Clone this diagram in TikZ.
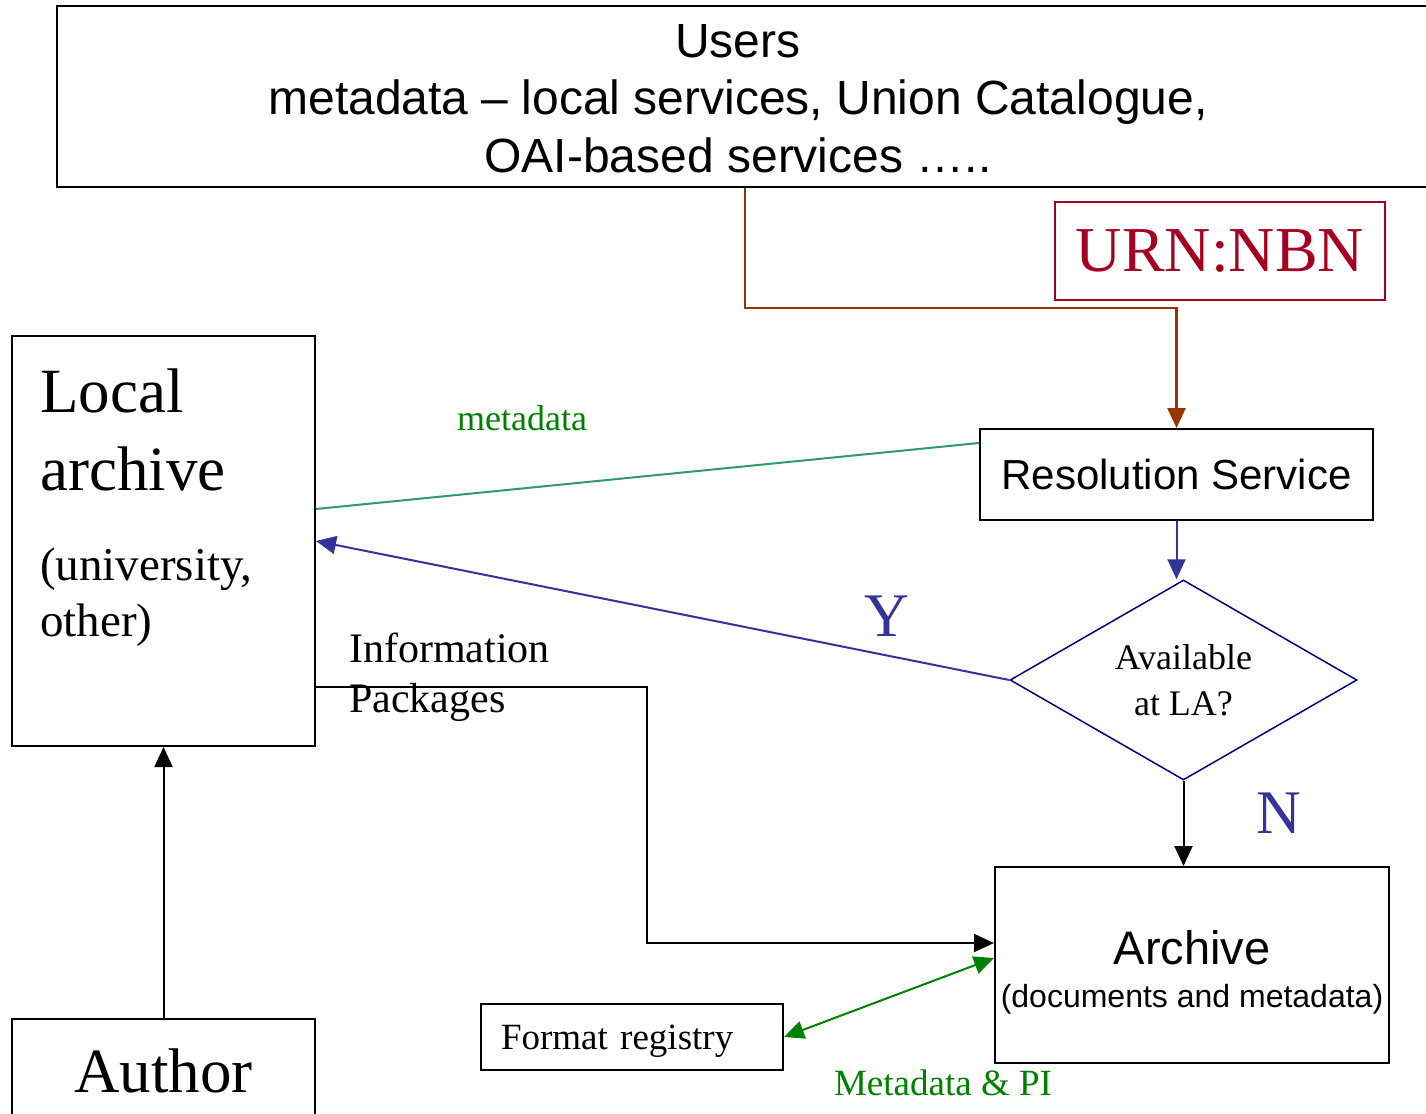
\documentclass[tikz,border=0pt]{standalone}
\usepackage{fontspec}
\setmainfont{Liberation Serif}
\setsansfont{Liberation Sans}
\usepackage{tikz}
\usetikzlibrary{arrows.meta,shapes.geometric,calc}
\newcommand{\flowUnit}[0]{1pt}
\newcommand{\pxfont}[2]{\fontsize{#1}{#2}\selectfont}
\definecolor{urnred}{RGB}{165,0,33}
\definecolor{urnbrown}{RGB}{153,51,0}
\definecolor{flowblue}{RGB}{51,51,153}
\definecolor{dianavy}{RGB}{0,0,128}
\definecolor{metateal}{RGB}{51,153,102}
\definecolor{metagreen}{RGB}{0,128,0}

\begin{document}
\begin{tikzpicture}[x=\flowUnit, y=-\flowUnit]
  \tikzset{box/.style={draw, line width=2pt, inner sep=0pt},
    conn/.style={line width=2pt},
    tip/.style={-{Triangle[length=20pt,width=18pt]}}}
  \useasboundingbox (0,0) rectangle (1426,1113);

  \node[box, minimum width=1383pt, minimum height=181pt] (users) at (748.5,96.5) {};
  \node[align=center, font=\sffamily\pxfont{48}{57.5}] (userstext) at (738,98.5)
    {Users\\metadata – local services, Union Catalogue,\\OAI-based services …..};
  \node[draw=urnred, line width=1.5pt, text=urnred, minimum width=330pt,
    minimum height=98pt, font=\pxfont{64}{76}] (urn) at (1220,251) {URN:NBN};
  \node[box, minimum width=393pt, minimum height=91pt,
    font=\sffamily\pxfont{42}{50}] (rs) at (1176.5,474.5) {Resolution Service};
  \node[diamond, draw=dianavy, line width=1.5pt, aspect=1.735, minimum width=347pt,
    minimum height=200pt, inner sep=0pt, align=center,
    font=\pxfont{36}{46}] (dia) at (1183.5,680) {Available\\at LA?};

  \node[box, minimum width=303pt, minimum height=410pt] (la) at (163.5,541) {};
  \node[anchor=north west, inner sep=0pt, align=left, font=\pxfont{63}{78}]
    (latitle) at (40,369) {Local\\archive};
  \node[anchor=north west, inner sep=0pt, align=left, font=\pxfont{47}{56}]
    (lasub) at (40,548) {(university,\\other)};
  \node[box, minimum width=303pt, minimum height=103pt,
    font=\pxfont{63}{76}] (au) at (163.5,1070.5) {Author};

  \node[box, minimum height=66pt, text width=262pt, inner xsep=20pt, align=left,
    text depth=0pt, font=\pxfont{37}{44}] (fr) at (632,1037) {Format registry};
  \node[box, minimum width=394pt, minimum height=196pt] (arch) at (1192,965) {};
  \node[anchor=base, font=\sffamily\pxfont{47}{56}] (archname) at (1192,964) {Archive};
  \node[anchor=base, font=\sffamily\pxfont{32}{38}] (archsub) at (1192,1007)
    {(documents and metadata)};

  \node[anchor=base, text=metagreen, font=\pxfont{36}{43}] (metalbl) at (522,430) {metadata};
  \node[anchor=base, text=flowblue, font=\pxfont{62}{74}] (ylbl) at (887,636) {Y};
  \node[anchor=base, text=flowblue, font=\pxfont{62}{74}] (nlbl) at (1279,833) {N};
  \node[anchor=north west, inner sep=0pt, align=left, font=\pxfont{42}{50}]
    (iplbl) at (349,633) {Information\\Packages};
  \node[anchor=base, text=metagreen, font=\pxfont{37}{44}] (mpilbl) at (943,1095)
    {Metadata \& PI};

  \coordinate (ubend) at (745,308);
  \coordinate (ipbend) at (647,943);
  \draw[conn, urnbrown, line width=2.5pt, tip] (ubend |- users.south) -- (ubend) -| (rs.north);
  \draw[conn, metateal] ($(la.north east)+(0,174)$) -- ($(rs.north west)+(0,15)$);
  \draw[conn, flowblue, tip] (dia.west) -- (la.east);
  \draw[conn, flowblue, tip] (rs.south) -- (rs.south |- dia.north);
  \draw[conn, tip] (dia.south) -- (dia.south |- arch.north);
  \draw[conn, tip] ($(la.south east)+(0,-60)$) -| (ipbend) -- (ipbend -| arch.west);
  \draw[conn, metagreen, {Triangle[length=20pt,width=18pt]}-{Triangle[length=20pt,width=18pt]}]
    (fr.east) -- ($(arch.west)+(0,-7)$);
  \draw[conn, tip] (au.north) -- (la.south);
\end{tikzpicture}
\end{document}
